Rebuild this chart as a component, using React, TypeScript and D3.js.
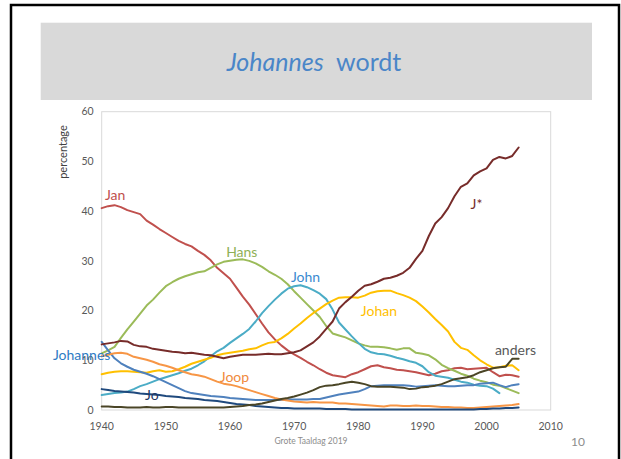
import React from "react";
import * as d3 from "d3";

const years: number[] = d3.range(1940, 2006);
const xTicks: number[] = [1940, 1950, 1960, 1970, 1980, 1990, 2000, 2010];
const yTicks: number[] = [0, 10, 20, 30, 40, 50, 60];

const jan = [40.6, 41.0, 41.2, 40.8, 40.2, 39.8, 39.4, 38.1, 37.3, 36.4, 35.6, 34.8, 34.0, 33.4, 32.9, 32.0, 31.2, 30.1, 28.6, 27.5, 26.4, 24.6, 22.8, 21.2, 19.3, 17.4, 15.6, 14.2, 13.0, 12.0, 11.2, 10.5, 9.7, 9.0, 8.2, 7.5, 7.0, 6.8, 6.6, 7.2, 7.6, 8.2, 8.8, 9.0, 8.6, 8.4, 8.1, 8.0, 7.8, 7.6, 7.3, 7.0, 7.3, 7.8, 8.0, 8.4, 8.5, 8.2, 8.3, 8.4, 8.5, 7.6, 6.8, 7.1, 7.0, 6.7];
const hans = [11.4, 12.0, 12.7, 14.5, 16.2, 17.8, 19.4, 21.0, 22.2, 23.6, 24.9, 25.7, 26.4, 26.9, 27.3, 27.7, 27.9, 28.6, 29.3, 29.8, 30.0, 30.2, 30.3, 30.0, 29.5, 28.8, 27.9, 27.2, 26.4, 25.3, 23.9, 22.6, 21.3, 20.0, 18.7, 16.9, 15.4, 15.0, 14.6, 14.0, 13.4, 13.0, 12.7, 12.7, 12.6, 12.4, 12.1, 12.4, 12.4, 11.5, 11.3, 11.0, 10.2, 9.1, 8.4, 7.9, 7.3, 6.9, 6.3, 5.9, 5.6, 5.1, 4.9, 4.4, 3.9, 3.4];
const john = [3.0, 3.2, 3.4, 3.5, 3.7, 4.2, 4.8, 5.2, 5.7, 6.2, 6.6, 7.0, 7.4, 7.9, 8.3, 9.0, 9.8, 10.8, 11.8, 12.5, 13.5, 14.4, 15.3, 16.3, 17.8, 19.5, 20.9, 22.2, 23.4, 24.4, 24.9, 25.1, 24.7, 24.1, 23.4, 22.3, 20.2, 17.6, 16.2, 14.8, 13.5, 12.3, 11.6, 11.3, 11.2, 10.9, 10.5, 10.2, 9.8, 9.5, 8.8, 7.6, 6.9, 6.7, 6.5, 6.1, 5.7, 5.5, 5.1, 4.9, 4.8, 4.3, 3.4];
const johan = [7.2, 7.5, 7.7, 7.8, 7.8, 7.7, 7.6, 7.5, 7.8, 8.0, 7.7, 7.8, 8.2, 8.7, 9.3, 9.7, 10.1, 10.5, 11.0, 11.3, 11.5, 11.7, 11.9, 12.2, 12.4, 13.0, 13.5, 13.7, 14.4, 15.3, 16.4, 17.4, 18.5, 19.5, 20.4, 21.3, 22.0, 22.6, 22.7, 22.7, 22.6, 23.0, 23.6, 23.9, 24.0, 24.0, 23.5, 23.1, 22.6, 21.9, 20.8, 19.6, 18.3, 17.1, 15.8, 13.7, 12.5, 12.1, 11.0, 10.0, 9.2, 8.5, 8.6, 8.9, 9.0, 8.0];
const jStar = [13.2, 13.4, 13.6, 13.9, 13.8, 13.1, 12.8, 12.7, 12.3, 12.1, 11.9, 11.7, 11.6, 11.4, 11.5, 11.3, 11.1, 11.0, 10.7, 10.4, 10.7, 10.9, 11.1, 11.1, 11.1, 11.2, 11.3, 11.2, 11.2, 11.4, 11.6, 12.0, 12.8, 13.6, 14.8, 16.3, 17.8, 20.4, 21.7, 22.8, 24.0, 25.0, 25.3, 25.8, 26.4, 26.6, 27.0, 27.6, 28.6, 30.4, 32.0, 35.0, 37.5, 38.8, 40.6, 43.0, 44.9, 45.6, 47.2, 48.0, 48.6, 50.3, 50.9, 50.6, 51.1, 52.8];
const anders = [0.7, 0.7, 0.6, 0.6, 0.5, 0.5, 0.5, 0.6, 0.5, 0.5, 0.6, 0.6, 0.5, 0.5, 0.5, 0.5, 0.5, 0.5, 0.5, 0.5, 0.6, 0.7, 0.8, 1.0, 1.1, 1.3, 1.6, 1.9, 2.2, 2.4, 2.7, 3.1, 3.5, 4.0, 4.6, 4.9, 5.0, 5.2, 5.5, 5.7, 5.5, 5.2, 4.8, 4.7, 4.7, 4.7, 4.6, 4.5, 4.2, 4.3, 4.6, 4.7, 4.9, 5.2, 5.7, 6.2, 6.4, 6.6, 7.0, 7.6, 8.0, 8.4, 8.6, 8.7, 10.3, 10.3];
const johannes = [13.7, 12.0, 10.4, 9.4, 8.7, 8.1, 7.7, 7.3, 6.8, 6.2, 5.6, 5.0, 4.4, 3.8, 3.4, 3.2, 3.0, 2.8, 2.7, 2.6, 2.4, 2.3, 2.2, 2.1, 2.0, 2.0, 2.0, 2.0, 2.0, 2.1, 2.1, 2.1, 2.1, 2.2, 2.2, 2.5, 2.8, 3.1, 3.3, 3.5, 3.7, 4.2, 4.8, 4.9, 5.0, 5.0, 5.0, 5.0, 4.9, 4.7, 4.8, 4.9, 5.0, 4.9, 4.8, 4.8, 4.9, 5.0, 5.0, 5.3, 5.4, 5.5, 5.0, 4.6, 5.0, 5.2];
const joop = [10.8, 11.1, 11.4, 11.5, 11.3, 10.7, 10.4, 10.1, 9.7, 9.2, 8.9, 8.5, 8.0, 7.6, 7.2, 7.0, 6.7, 6.2, 5.7, 5.3, 5.1, 4.8, 4.4, 4.0, 3.6, 3.2, 2.8, 2.4, 2.1, 1.9, 1.7, 1.6, 1.5, 1.6, 1.5, 1.5, 1.5, 1.3, 1.3, 1.2, 1.1, 1.0, 0.9, 0.8, 0.7, 0.9, 0.9, 0.8, 0.8, 0.9, 0.8, 0.8, 0.7, 0.6, 0.6, 0.5, 0.5, 0.4, 0.4, 0.5, 0.6, 0.7, 0.8, 0.9, 1.0, 1.2];
const jo = [4.2, 4.0, 3.8, 3.7, 3.6, 3.5, 3.3, 3.2, 3.1, 3.0, 2.8, 2.7, 2.6, 2.4, 2.3, 2.2, 2.0, 1.9, 1.8, 1.6, 1.4, 1.2, 1.1, 1.0, 0.8, 0.7, 0.6, 0.5, 0.4, 0.4, 0.3, 0.3, 0.3, 0.3, 0.3, 0.2, 0.2, 0.2, 0.2, 0.1, 0.1, 0.1, 0.1, 0.1, 0.1, 0.1, 0.1, 0.1, 0.1, 0.1, 0.1, 0.1, 0.1, 0.1, 0.1, 0.1, 0.1, 0.1, 0.1, 0.2, 0.2, 0.3, 0.3, 0.4, 0.4, 0.5];

const seriesNames = ["Jan", "Hans", "John", "Johan", "Johannes", "Joop", "Jo", "J*", "anders"];
const seriesValues = [jan, hans, john, johan, johannes, joop, jo, jStar, anders];
const lineColors = ["#c0504d", "#9bbb59", "#4bacc6", "#ffc000", "#4f81bd", "#f79646", "#1f497d", "#772c2a", "#4a4526"];
const labelColors = ["#c0504d", "#8fb056", "#3a8ad0", "#ffc000", "#2e7bc4", "#f08a3c", "#1f3864", "#772c2a", "#595959"];
const labelYears = [1940.5, 1959.4, 1969.5, 1980.4, 1932.4, 1958.4, 1946.75, 1997.5, 2001.3];
const labelValues = [43.2, 31.8, 26.8, 19.9, 11.0, 6.7, 3.0, 41.4, 12.1];

const FONT = "Lato, 'Open Sans', sans-serif";

export default function App() {
  const x = d3.scaleLinear().domain([1940, 2010]).range([101.7, 550.7]);
  const y = d3.scaleLinear().domain([0, 60]).range([410, 111.7]);
  const line = d3
    .line<number>()
    .x((_, i) => x(years[i]))
    .y((d) => y(d));

  return (
    <div style={{ position: "absolute", left: 0, top: 0, width: 621, height: 459, background: "#fff" }}>
      <svg width={621} height={459} style={{ display: "block" }}>
        <rect x={0} y={0} width={621} height={459} fill="#fff" />
        <rect x={11} y={5} width={608} height={470} fill="none" stroke="#000" strokeWidth={2.5} />
        <rect x={40.7} y={22.7} width={551.3} height={77.3} fill="#d9d9d9" />
        <text x={314} y={71} textAnchor="middle" fontFamily={FONT} fontSize={25} fill="#4a86c8">
          <tspan fontStyle="italic">Johannes</tspan>
          <tspan>{"\u00a0\u00a0wordt"}</tspan>
        </text>

        <rect x={x(1940)} y={y(60)} width={x(2010) - x(1940)} height={y(0) - y(60)} fill="none" stroke="#d9d9d9" strokeWidth={1} />

        {yTicks.map((t) => (
          <text key={"y" + t} x={x(1940) - 8} y={y(t)} dy="0.35em" textAnchor="end" fontFamily={FONT} fontSize={10.5} fill="#595959">
            {t}
          </text>
        ))}
        {xTicks.map((t) => (
          <text key={"x" + t} x={x(t)} y={430} textAnchor="middle" fontFamily={FONT} fontSize={10.5} fill="#595959">
            {t}
          </text>
        ))}
        <text transform={`translate(67,152) rotate(-90)`} textAnchor="middle" fontFamily={FONT} fontSize={11} fill="#404040">
          percentage
        </text>

        {seriesValues.map((vals, i) => (
          <path key={seriesNames[i]} d={line(vals) || ""} fill="none" stroke={lineColors[i]} strokeWidth={2} strokeLinejoin="round" strokeLinecap="round" />
        ))}

        {seriesNames.map((n, i) => (
          <text key={"l" + n} x={x(labelYears[i])} y={y(labelValues[i])} dy="0.35em" fontFamily={FONT} fontSize={14} fill={labelColors[i]}>
            {n}
          </text>
        ))}

        <text x={311} y={444} textAnchor="middle" fontFamily={FONT} fontSize={8.5} fill="#8c8c8c">
          Grote Taaldag 2019
        </text>
        <text x={578} y={446} textAnchor="middle" fontFamily={FONT} fontSize={12} fill="#8c8c8c">
          10
        </text>
      </svg>
    </div>
  );
}
